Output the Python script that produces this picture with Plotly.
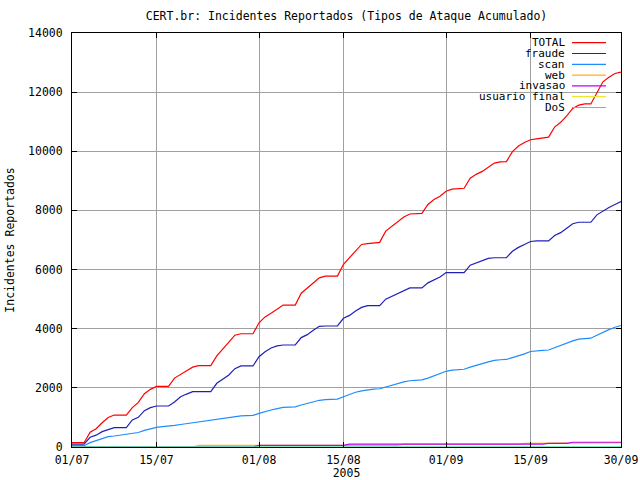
import pandas as pd
import plotly.graph_objects as go

dates = pd.date_range("2005-07-01", "2005-09-30", freq="D")

total = [145, 145, 145, 500, 620, 820, 1000, 1080, 1080, 1080,
         1330, 1510, 1800, 1950, 2050, 2050, 2050, 2330, 2470, 2580,
         2700, 2750, 2750, 2750, 3080, 3300, 3550, 3780, 3830, 3830,
         3830, 4200, 4400, 4520, 4650, 4800, 4800, 4800, 5200, 5380,
         5560, 5720, 5780, 5780, 5780, 6180, 6400, 6600, 6850, 6880,
         6900, 6920, 7300, 7470, 7620, 7780, 7880, 7900, 7900, 8200,
         8370, 8480, 8650, 8720, 8740, 8750, 9090, 9220, 9320, 9470,
         9600, 9640, 9650, 9990, 10180, 10300, 10390, 10420, 10450, 10480,
         10820, 10980, 11200, 11450, 11560, 11600, 11600, 12000, 12350, 12500,
         12630, 12680]

fraude = [100, 100, 100, 330, 400, 520, 600, 653, 653, 653,
          913, 1004, 1228, 1330, 1387, 1387, 1387, 1520, 1700, 1790,
          1870, 1870, 1870, 1870, 2154, 2300, 2435, 2650, 2740, 2740,
          2740, 3054, 3223, 3350, 3420, 3450, 3450, 3450, 3700, 3800,
          3950, 4080, 4092, 4092, 4092, 4353, 4450, 4600, 4720, 4780,
          4780, 4780, 5000, 5100, 5200, 5300, 5380, 5380, 5380, 5550,
          5650, 5750, 5900, 5900, 5900, 5900, 6150, 6220, 6300, 6380,
          6400, 6400, 6400, 6620, 6750, 6850, 6950, 6970, 6970, 6970,
          7150, 7250, 7400, 7550, 7600, 7600, 7600, 7850, 7980, 8100,
          8200, 8300]

scan = [45, 45, 45, 146, 220, 293, 350, 372, 400, 428,
        460, 490, 560, 609, 665, 687, 700, 730, 760, 790,
        820, 860, 880, 900, 937, 960, 990, 1020, 1050, 1060,
        1070, 1139, 1207, 1250, 1300, 1340, 1350, 1360, 1420, 1480,
        1540, 1580, 1600, 1610, 1620, 1700, 1780, 1850, 1900, 1940,
        1960, 1970, 2030, 2100, 2160, 2200, 2240, 2260, 2270, 2330,
        2400, 2480, 2560, 2600, 2620, 2630, 2700, 2750, 2820, 2880,
        2930, 2950, 2960, 3020, 3080, 3150, 3230, 3260, 3270, 3280,
        3360, 3440, 3520, 3590, 3650, 3670, 3680, 3780, 3880, 3970,
        4050, 4110]

web = [0] * 21 + [55] * 34 + [95] * 20 + [125] * 7 + [150] * 10
invasao = [0] * 31 + [55] * 15 + [95] * 33 + [125] * 4 + [160] * 9
usuario_final = [0] * 92
dos = [0] * 92

series_names = ["TOTAL", "fraude", "scan", "web", "invasao", "usuario final", "DoS"]
series_values = [total, fraude, scan, web, invasao, usuario_final, dos]
series_colors = ["#ff0000", "#2020b8", "#1e8cff", "#ffb020", "#c000ff", "#e8e830", "#00e8e8"]

tick_dates = ["2005-07-01", "2005-07-15", "2005-08-01", "2005-08-15",
              "2005-09-01", "2005-09-15", "2005-09-30"]
tick_labels = ["01/07", "15/07", "01/08", "15/08", "01/09", "15/09", "30/09"]
y_ticks = [0, 2000, 4000, 6000, 8000, 10000, 12000, 14000]

FONT = "DejaVu Sans Mono"
fig = go.Figure()

for name, vals, col in zip(series_names, series_values, series_colors):
    fig.add_trace(go.Scatter(x=dates, y=vals, mode="lines", name=name,
                             line=dict(color=col, width=1.2), showlegend=False,
                             hoverinfo="skip"))

# legend background (between grid and traces)
fig.add_shape(type="rect", xref="paper", yref="paper", x0=0.734, x1=1.0,
              y0=0.807, y1=1.0, fillcolor="white", line=dict(width=0),
              layer="between")

ly0 = 0.9766
dy = 0.02609
for i, (name, col) in enumerate(zip(series_names, series_colors)):
    yy = ly0 - i * dy
    fig.add_annotation(xref="paper", yref="paper", x=0.8998, y=yy, text=name,
                       showarrow=False, xanchor="right", yanchor="middle",
                       borderpad=0,
                       font=dict(family=FONT, size=11, color="black"))
    fig.add_shape(type="line", xref="paper", yref="paper", x0=0.9107, x1=0.9727,
                  y0=yy, y1=yy, line=dict(color=col, width=1.2))

fig.update_layout(
    width=640, height=480,
    margin=dict(l=72, r=19, t=33, b=33, autoexpand=False),
    paper_bgcolor="white", plot_bgcolor="white",
    font=dict(family=FONT, size=11.5, color="black"),
    title=dict(text="CERT.br: Incidentes Reportados (Tipos de Ataque Acumulado)",
               x=0.5, xref="paper", y=1 - 16 / 480, yref="container",
               yanchor="middle", xanchor="center",
               font=dict(family=FONT, size=11.5, color="black")),
)
fig.update_xaxes(
    type="date", range=["2005-07-01", "2005-09-30"],
    tickvals=tick_dates, ticktext=tick_labels,
    ticks="inside", ticklen=5, tickcolor="black", tickwidth=1,
    showline=True, linecolor="black", linewidth=1, mirror="ticks",
    showgrid=True, gridcolor="#a0a0a0", gridwidth=1,
    zeroline=False, automargin=False,
    title=dict(text="2005", standoff=6, font=dict(family=FONT, size=11.5)),
    tickfont=dict(family=FONT, size=11.5),
    ticklabelstandoff=2,
)
fig.update_yaxes(
    range=[0, 14000], tickvals=y_ticks, ticktext=[str(v) for v in y_ticks],
    ticks="inside", ticklen=5, tickcolor="black", tickwidth=1,
    showline=True, linecolor="black", linewidth=1, mirror="ticks",
    showgrid=True, gridcolor="#a0a0a0", gridwidth=1,
    zeroline=False, automargin=False,
    title=dict(text="Incidentes Reportados", standoff=11, font=dict(family=FONT, size=11.5)),
    tickfont=dict(family=FONT, size=11.5),
    ticklabelstandoff=6,
)

fig.write_html("out.html", config={"displayModeBar": False},
               post_script="document.body.style.margin='0';document.body.style.overflow='hidden';")
